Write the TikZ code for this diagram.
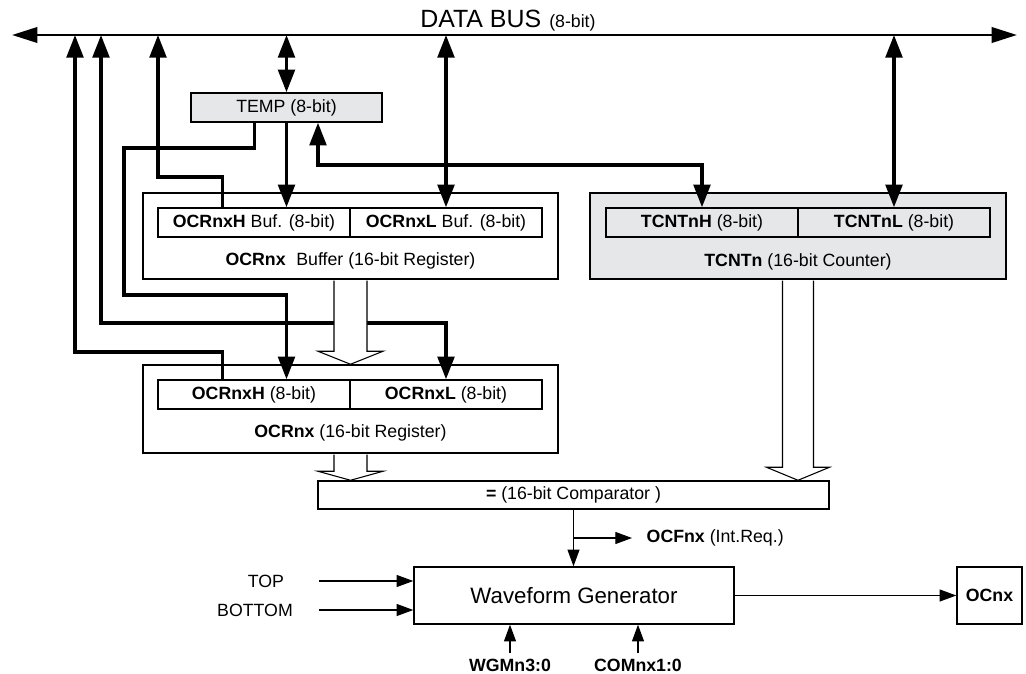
\documentclass[tikz,border=0pt]{standalone}
\usepackage{fontspec}
\setmainfont{Liberation Sans}
\usetikzlibrary{arrows.meta,calc}
\definecolor{regfill}{RGB}{230,231,232}
\begin{document}
\begin{tikzpicture}[x=0.75pt,y=-0.75pt,
  every node/.style={font=\fontsize{13.3}{16}\selectfont},
  reg/.style={draw,line width=1.1pt,inner sep=0pt},
  wire/.style={line width=2.6pt},
  bustip/.tip={Triangle[length=19pt,width=11.5pt]},
  bigtip/.tip={Triangle[length=17pt,width=12.5pt]},
  smalltip/.tip={Triangle[length=12.5pt,width=9pt]},
  thinwire/.style={line width=0.8pt,-smalltip},
  hollow/.style={draw,fill=white,line width=0.8pt}]
\useasboundingbox (0,0) rectangle (1026,674);
% data bus
\coordinate (bl) at (12,35);
\coordinate (br) at (1017,35);
\draw[line width=2pt,bustip-bustip] (bl) -- (br);
\node[anchor=base west,inner sep=0pt] (buslabel) at (420,28) {\fontsize{18.7}{20}\selectfont DATA BUS\hspace{6pt}\fontsize{13.3}{16}\selectfont(8-bit)};
% registers
\node[reg,fill=regfill,minimum width=143.25pt,minimum height=21.75pt] (temp) at (286.5,107.5) {TEMP (8-bit)};
\node[reg,minimum width=311.25pt,minimum height=64.5pt] (bufreg) at (350.5,236) {};
\node[reg,minimum width=144pt,minimum height=21.75pt] (bufH) at (254,222.5) {\textbf{OCRnxH} Buf. (8-bit)};
\node[reg,minimum width=144pt,minimum height=21.75pt] (bufL) at (446,222.5) {\textbf{OCRnxL} Buf. (8-bit)};
\node (buflabel) at (350.5,261) {\textbf{OCRnx}\hspace{8pt}Buffer (16-bit Register)};
\node[reg,minimum width=311.25pt,minimum height=66pt] (ocr) at (350.5,409) {};
\node[reg,minimum width=144pt,minimum height=21.75pt] (ocrH) at (254,394.5) {\textbf{OCRnxH} (8-bit)};
\node[reg,minimum width=144pt,minimum height=21.75pt] (ocrL) at (446,394.5) {\textbf{OCRnxL} (8-bit)};
\node (ocrlabel) at (350.5,433) {\textbf{OCRnx} (16-bit Register)};
\node[reg,fill=regfill,minimum width=312pt,minimum height=64.5pt] (tcnt) at (798,236) {};
\node[reg,minimum width=144pt,minimum height=21.75pt] (tcntH) at (702,222.5) {\textbf{TCNTnH} (8-bit)};
\node[reg,minimum width=144pt,minimum height=21.75pt] (tcntL) at (894,222.5) {\textbf{TCNTnL} (8-bit)};
\node (tcntlabel) at (798,262) {\textbf{TCNTn} (16-bit Counter)};
\node[reg,minimum width=383.25pt,minimum height=21pt] (comp) at (573.5,495) {\textbf{=} (16-bit Comparator )};
\node[reg,minimum width=240pt,minimum height=42.75pt,font=\fontsize{16.7}{20}\selectfont] (wave) at (574,595.5) {Waveform Generator};
\node[reg,minimum width=48.75pt,minimum height=42.75pt] (ocnx) at (989.5,595.5) {\textbf{OCnx}};
% signal labels
\node[anchor=west] (ocf) at (642,538) {\textbf{OCFnx} (Int.Req.)};
\node (top) at (266,581) {TOP};
\node (bottom) at (255,610) {BOTTOM};
\node[inner sep=2pt] (wgm) at (510,665) {\textbf{WGMn3:0}};
\node[inner sep=2pt] (com) at (638,665) {\textbf{COMnx1:0}};
% 8-bit paths
\draw[wire,bigtip-bigtip] (temp.north |- bl) -- (temp.north);
\draw[wire,bigtip-bigtip] (bufL.north |- bl) -- (bufL.north);
\draw[wire,bigtip-bigtip] (tcntL.north |- bl) -- (tcntL.north);
\draw[wire,-bigtip] (temp.south) -- (temp.south |- bufH.north);
\draw[wire,-bigtip] ($(bufH.north west)+(65,0)$) |- (158,177) -- (158,0 |- bl);
\draw[wire,-bigtip] ($(ocrH.north west)+(65,0)$) |- (75,352) -- (75,0 |- bl);
\draw[wire,bigtip-bigtip] (101,0 |- bl) |- (ocrL.north |- 0,323) -- (ocrL.north);
\draw[wire,-bigtip] ($(temp.south west)+(64,0)$) |- (124,148) -- (124,295) -| (temp.south |- ocrH.north);
\draw[wire,bigtip-bigtip] (tcntH.north) |- (318,165) -- (318,0 |- temp.south);
% 16-bit paths
\draw[hollow] ($(bufreg.south)+(-16.5,0.8)$) -- ($(ocr.north)+(-16.5,-13)$) -- ++(-16,0) -- (ocr.north)
  -- ($(ocr.north)+(32.5,-13)$) -- ++(-16,0) -- ($(bufreg.south)+(16.5,0.8)$);
\draw[hollow] ($(ocr.south)+(-16.5,0.8)$) -- ($(ocr.south |- comp.north)+(-16.5,-9)$) -- ++(-16,0) -- (ocr.south |- comp.north)
  -- ($(ocr.south |- comp.north)+(32.5,-9)$) -- ++(-16,0) -- ($(ocr.south)+(16.5,0.8)$);
\draw[hollow] ($(tcnt.south)+(-15.5,0.8)$) -- ($(tcnt.south |- comp.north)+(-15.5,-13)$) -- ++(-16,0) -- (tcnt.south |- comp.north)
  -- ($(tcnt.south |- comp.north)+(31.5,-13)$) -- ++(-16,0) -- ($(tcnt.south)+(15.5,0.8)$);
% control signals
\draw[thinwire] (comp.south) -- (comp.south |- wave.north);
\draw[thinwire,shorten >=7.5pt] (comp.south |- ocf.west) -- (ocf.west);
\draw[thinwire] (319,0 |- top) -- (wave.west |- top);
\draw[thinwire] (319,0 |- bottom) -- (wave.west |- bottom);
\draw[thinwire,shorten <=2pt] (wgm.north) -- (wgm.north |- wave.south);
\draw[thinwire,shorten <=2pt] (com.north) -- (com.north |- wave.south);
\draw[thinwire] (wave.east) -- (ocnx.west);
\end{tikzpicture}
\end{document}
